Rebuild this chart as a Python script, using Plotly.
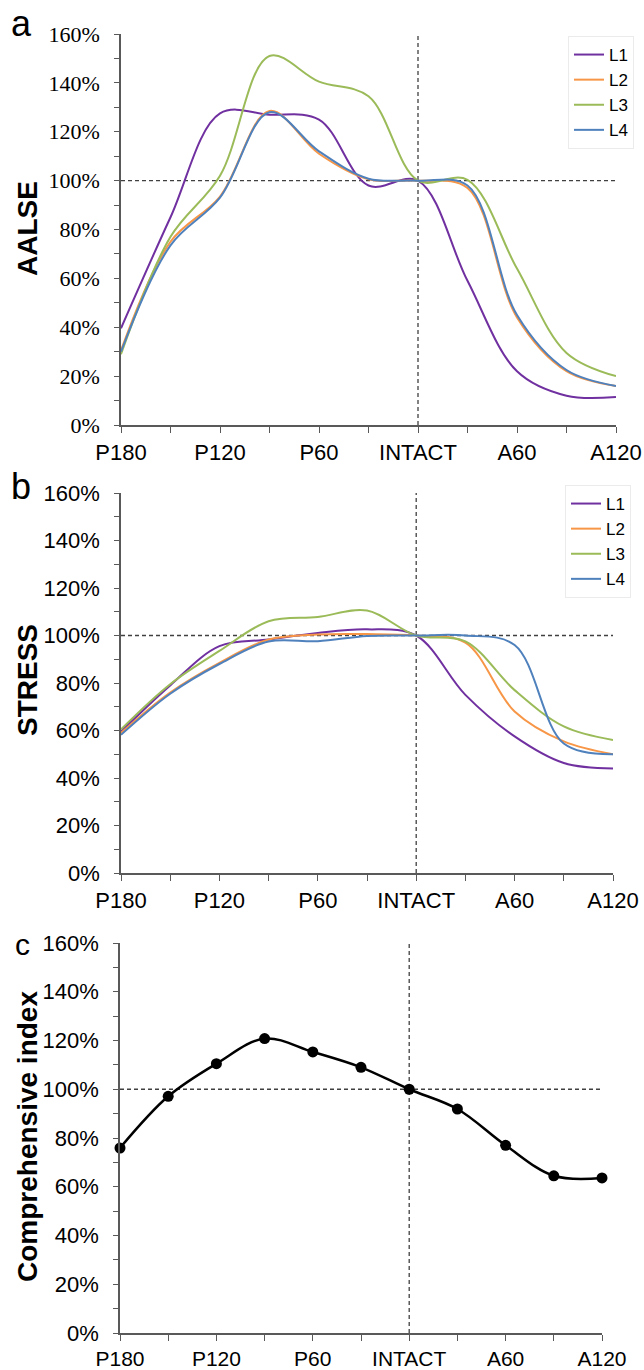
import plotly.graph_objects as go

categories = ["P180", "P150", "P120", "P90", "P60", "P30", "INTACT", "A30", "A60", "A90", "A120"]
tick_labels = ["P180", "", "P120", "", "P60", "", "INTACT", "", "A60", "", "A120"]
series_names = ["L1", "L2", "L3", "L4"]

# Panel a: AALSE (%)
aalse_L1 = [39.6, 85, 127.5, 127, 125, 98, 100, 59, 22, 12, 11.5]
aalse_L2 = [30.5, 75, 93.5, 128.5, 111, 100.5, 100, 97, 44, 22, 16]
aalse_L3 = [29, 77, 102, 151, 140.5, 134.5, 100, 100.3, 64, 29.5, 20]
aalse_L4 = [30, 73.5, 93, 128, 112, 100.8, 100, 98, 45, 22.5, 16]

# Panel b: STRESS (%)
stress_L1 = [59.5, 79, 95.5, 98.3, 101.1, 102.6, 100, 75, 57.5, 46.3, 44]
stress_L2 = [59, 76, 88.5, 98.3, 100.4, 100.6, 100, 97, 68, 55.4, 50]
stress_L3 = [60.5, 79.5, 93.5, 106, 107.8, 110.5, 100, 97.5, 77, 61.7, 56]
stress_L4 = [58.2, 75.5, 88, 97.5, 97.6, 99.8, 100, 100, 96, 54.5, 50]

# Panel c: Comprehensive index (%)
comprehensive = [75.9, 97.1, 110.5, 120.8, 115.3, 109, 100, 91.9, 77, 64.5, 63.6]

BASELINE = 100
REF_CAT = "INTACT"

colors = ["#7030A0", "#F79646", "#9BBB59", "#4F81BD"]

W, H = 644, 1370
def px(x):
    return x / W
def py(y):
    return 1 - y / H

fig = go.Figure()

panels_lines = [
    ([aalse_L1, aalse_L2, aalse_L3, aalse_L4], "x", "y", "legend"),
    ([stress_L1, stress_L2, stress_L3, stress_L4], "x2", "y2", "legend2"),
]
for data, xa, ya, lg in panels_lines:
    for name, vals, col in zip(series_names, data, colors):
        fig.add_trace(go.Scatter(
            x=categories, y=vals, name=name, mode="lines",
            line=dict(color=col, width=2, shape="spline", smoothing=1),
            xaxis=xa, yaxis=ya, legend=lg, cliponaxis=False,
        ))

fig.add_trace(go.Scatter(
    x=categories, y=comprehensive, mode="lines+markers", showlegend=False,
    line=dict(color="black", width=2.5, shape="spline", smoothing=1),
    marker=dict(color="black", size=11),
    xaxis="x3", yaxis="y3", cliponaxis=False,
))

axis_color = "#595959"
domains = {
    1: dict(x=[px(121), px(616)], y=[py(425), py(34)]),
    2: dict(x=[px(121), px(613)], y=[py(873), py(493)]),
    3: dict(x=[px(120), px(602)], y=[py(1333), py(943)]),
}
ytick_fonts = {
    1: dict(family="Liberation Serif", size=22, color="black"),
    2: dict(family="Liberation Sans", size=22, color="black"),
    3: dict(family="Liberation Sans", size=22, color="black"),
}
layout = dict(
    width=W, height=H, margin=dict(l=0, r=0, t=0, b=0, autoexpand=False),
    paper_bgcolor="white", plot_bgcolor="white", showlegend=True,
)
for i in (1, 2, 3):
    sx = "" if i == 1 else str(i)
    layout["xaxis" + sx] = dict(
        domain=domains[i]["x"], anchor="y" + sx, type="category",
        categoryorder="array", categoryarray=categories,
        range=[0, len(categories) - 1], automargin=False,
        tickmode="array", tickvals=categories, ticktext=tick_labels,
        ticks="outside", ticklen=6, tickcolor=axis_color, tickwidth=1.3,
        showline=True, linecolor=axis_color, linewidth=1.5,
        showgrid=False, zeroline=False,
        tickfont=dict(family="Liberation Sans", size=21 if i == 3 else 22, color="black"),
        ticklabelstandoff=0 if i == 3 else 1,
    )
    layout["yaxis" + sx] = dict(
        domain=domains[i]["y"], anchor="x" + sx, automargin=False,
        range=[0, 160], tickmode="linear", tick0=0, dtick=20, ticksuffix="%",
        ticks="outside", ticklen=5, tickcolor=axis_color, tickwidth=1.3,
        minor=dict(ticks="outside", ticklen=5, dtick=10, tickcolor=axis_color, tickwidth=1.3),
        showline=True, linecolor=axis_color, linewidth=1.5,
        showgrid=False, zeroline=False,
        tickfont=ytick_fonts[i], ticklabelstandoff=10,
    )

legend_common = dict(
    xanchor="right", yanchor="top", bgcolor="white",
    bordercolor="#ebebeb", borderwidth=1,
    font=dict(family="Liberation Sans", size=17, color="black"),
    itemwidth=30, tracegroupgap=0,
)
layout["legend"] = dict(x=px(634), y=py(36), **legend_common)
layout["legend2"] = dict(x=px(631), y=py(485), **legend_common)
fig.update_layout(**layout)

ref_idx = categories.index(REF_CAT)
shapes = []
for i in (1, 2, 3):
    sx = "" if i == 1 else str(i)
    dash = dict(color="#404040", width=1.3, dash="4px,3px")
    shapes.append(dict(type="line", xref="x" + sx, yref="y" + sx,
                       x0=ref_idx, x1=ref_idx, y0=0, y1=160, line=dash, layer="below"))
    shapes.append(dict(type="line", xref="x" + sx, yref="y" + sx,
                       x0=0, x1=len(categories) - 1, y0=BASELINE, y1=BASELINE, line=dash, layer="below"))
fig.update_layout(shapes=shapes)

annotations = [
    dict(text="a", x=px(21), y=py(24), font=dict(size=36)),
    dict(text="b", x=px(21), y=py(486), font=dict(size=36)),
    dict(text="c", x=px(22), y=py(944), font=dict(size=30)),
    dict(text="<b>AALSE</b>", x=px(27), y=py(229), textangle=-90, font=dict(size=28)),
    dict(text="<b>STRESS</b>", x=px(27), y=py(680), textangle=-90, font=dict(size=28)),
    dict(text="<b>Comprehensive index</b>", x=px(27), y=py(1137), textangle=-90, font=dict(size=28)),
]
for a in annotations:
    a.update(xref="paper", yref="paper", showarrow=False, xanchor="center", yanchor="middle")
    a["font"].update(family="Liberation Sans", color="black")
fig.update_layout(annotations=annotations)

fig.write_html(
    "out.html",
    config={"displayModeBar": False},
    post_script="document.body.style.margin='0px';document.body.style.overflow='hidden';",
)
